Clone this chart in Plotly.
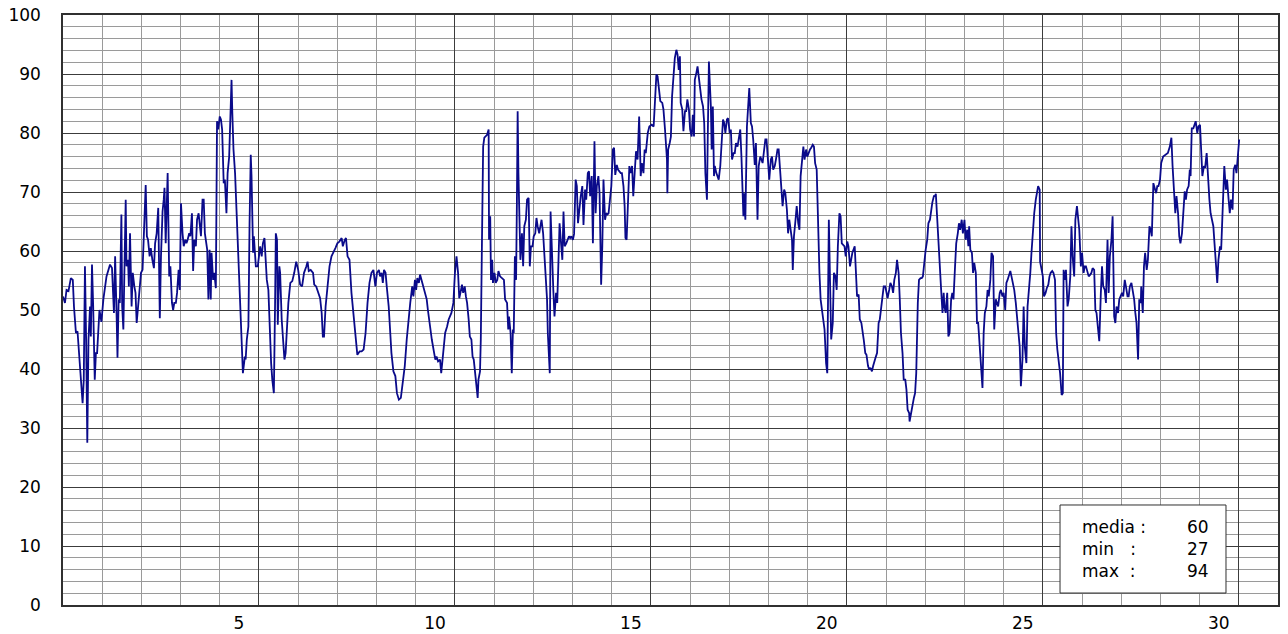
import plotly.graph_objects as go

# ── Data: time in days from start of month ───────────────────────────────────
t_d00 = [0.00, 0.05, 0.09, 0.14, 0.20, 0.25, 0.28, 0.33, 0.37, 0.40, 0.45, 0.50, 0.53, 0.56, 0.59,
         0.62, 0.65, 0.69, 0.71, 0.74, 0.77, 0.81, 0.84, 0.87, 0.93, 0.98, 1.03, 1.11, 1.20, 1.25,
         1.30, 1.33, 1.37, 1.39, 1.42, 1.45, 1.49, 1.51, 1.54, 1.56, 1.60, 1.62, 1.66, 1.68, 1.71,
         1.75, 1.78, 1.82, 1.85, 1.88, 1.92, 1.95, 1.99, 2.03, 2.07, 2.11, 2.14, 2.17, 2.21, 2.24,
         2.28, 2.32, 2.35, 2.39, 2.43, 2.45, 2.47, 2.50, 2.54, 2.57, 2.59, 2.62, 2.64, 2.67, 2.71,
         2.74, 2.78, 2.81, 2.84, 2.88, 2.91, 2.95, 2.98, 3.01, 3.05, 3.08, 3.12, 3.15, 3.18, 3.22,
         3.25, 3.29, 3.32, 3.35, 3.39, 3.42, 3.46, 3.49, 3.52, 3.56, 3.59, 3.62, 3.68, 3.71, 3.74,
         3.77, 3.79, 3.83, 3.86, 3.90, 3.93, 3.96, 4.00, 4.03, 4.06, 4.10, 4.13, 4.17, 4.20, 4.24,
         4.27, 4.30, 4.32, 4.35, 4.39, 4.42, 4.46, 4.51, 4.55, 4.59, 4.64, 4.66, 4.69, 4.73, 4.76,
         4.79, 4.81, 4.85, 4.87, 4.92, 4.97, 5.00]
v_d00 = [52.3, 51.2, 53.4, 53.2, 55.4, 55.1, 50.6, 46.1, 46.4, 43.8, 38.2, 34.2, 38.2, 57.4, 45.0,
         27.5, 45.0, 50.6, 45.5, 57.7, 50.6, 38.2, 42.7, 42.7, 50.0, 48.0, 51.8, 55.7, 57.7, 57.1,
         49.5, 59.1, 48.4, 41.9, 51.8, 51.2, 66.2, 50.6, 46.7, 56.3, 68.7, 57.4, 58.5, 54.0, 63.0,
         50.6, 56.3, 54.0, 52.9, 47.8, 50.6, 54.0, 56.3, 56.8, 64.2, 71.2, 62.5, 61.9, 59.1, 60.5,
         58.5, 57.1, 61.3, 63.0, 67.3, 56.3, 48.6, 59.1, 66.7, 68.7, 70.7, 61.3, 68.7, 73.2, 55.7,
         57.4, 51.2, 50.0, 51.2, 51.2, 52.9, 56.8, 53.4, 68.1, 63.0, 60.8, 61.9, 61.3, 61.9, 63.0,
         62.5, 66.4, 56.6, 61.9, 60.8, 65.3, 66.4, 64.2, 62.5, 68.7, 68.7, 63.0, 60.2, 51.8, 60.2,
         51.8, 59.7, 55.1, 56.3, 53.7, 82.0, 80.6, 82.8, 82.3, 80.6, 71.5, 72.1, 66.4, 73.2, 76.0,
         85.1, 89.0, 83.4, 77.2, 73.2, 67.6, 60.8, 51.2, 45.0, 39.3, 42.1, 41.6, 45.0, 47.2, 64.7,
         76.3, 72.7, 59.7, 62.5, 57.4, 57.4, 59.7]

t_d05 = [5.03, 5.07, 5.10, 5.14, 5.17, 5.20, 5.24, 5.27, 5.31, 5.34, 5.38, 5.41, 5.43, 5.46, 5.48,
         5.52, 5.54, 5.58, 5.61, 5.65, 5.68, 5.71, 5.75, 5.80, 5.85, 5.90, 5.95, 6.00, 6.05, 6.10,
         6.15, 6.21, 6.24, 6.27, 6.32, 6.38, 6.41, 6.46, 6.51, 6.56, 6.60, 6.63, 6.66, 6.70, 6.75,
         6.80, 6.85, 6.90, 6.95, 7.00, 7.05, 7.11, 7.14, 7.19, 7.22, 7.26, 7.31, 7.36, 7.41, 7.46,
         7.51, 7.57, 7.62, 7.67, 7.72, 7.77, 7.82, 7.87, 7.92, 7.97, 8.01, 8.06, 8.09, 8.13, 8.16,
         8.19, 8.23, 8.26, 8.31, 8.35, 8.38, 8.43, 8.48, 8.52, 8.57, 8.62, 8.67, 8.72, 8.77, 8.81,
         8.86, 8.91, 8.94, 8.98, 9.01, 9.04, 9.08, 9.11, 9.15, 9.20, 9.25, 9.28, 9.31, 9.36, 9.41,
         9.47, 9.50, 9.53, 9.57, 9.62, 9.65, 9.70, 9.75, 9.80, 9.84, 9.91]
v_d05 = [60.8, 59.1, 61.3, 62.2, 59.1, 55.1, 53.4, 46.7, 41.0, 38.2, 35.9, 50.6, 63.0, 61.9, 47.5,
         57.4, 56.3, 48.4, 45.0, 41.6, 42.7, 46.1, 51.2, 54.6, 54.9, 56.3, 58.2, 56.8, 54.3, 54.0,
         56.3, 57.4, 58.2, 56.6, 56.8, 56.3, 54.3, 54.0, 52.9, 52.0, 49.5, 45.5, 45.5, 50.6, 54.0,
         57.4, 59.1, 59.7, 60.5, 61.3, 61.6, 62.2, 60.8, 61.9, 62.2, 59.1, 58.5, 52.9, 48.9, 45.0,
         42.4, 43.0, 43.0, 43.3, 46.1, 51.2, 54.6, 56.3, 56.8, 54.0, 56.3, 56.8, 55.7, 56.3, 54.6,
         56.8, 56.3, 54.0, 50.6, 46.1, 42.7, 39.6, 38.8, 35.9, 34.8, 35.1, 38.2, 40.5, 45.0, 48.4,
         51.2, 54.0, 52.3, 55.1, 53.4, 55.4, 54.6, 56.0, 55.1, 54.0, 52.9, 51.8, 50.0, 47.2, 45.0,
         42.7, 41.6, 42.1, 41.3, 41.6, 39.3, 42.7, 46.1, 47.2, 48.4, 49.5]

t_d10 = [9.96, 10.00, 10.04, 10.08, 10.11, 10.14, 10.18, 10.21, 10.25, 10.28, 10.31, 10.35, 10.38,
         10.42, 10.45, 10.48, 10.52, 10.55, 10.58, 10.60, 10.64, 10.66, 10.69, 10.70, 10.72, 10.75,
         10.79, 10.82, 10.86, 10.87, 10.90, 10.92, 10.95, 10.97, 11.01, 11.04, 11.08, 11.11, 11.15,
         11.20, 11.25, 11.28, 11.33, 11.36, 11.38, 11.42, 11.45, 11.48, 11.50, 11.53, 11.56, 11.58,
         11.60, 11.62, 11.65, 11.67, 11.71, 11.74, 11.77, 11.81, 11.84, 11.88, 11.91, 11.94, 11.98,
         12.01, 12.05, 12.08, 12.11, 12.15, 12.18, 12.21, 12.25, 12.28, 12.31, 12.35, 12.37, 12.42,
         12.44, 12.47, 12.51, 12.54, 12.58, 12.61, 12.64, 12.67, 12.70, 12.74, 12.77, 12.80, 12.84,
         12.87, 12.91, 12.94, 12.97, 13.01, 13.04, 13.08, 13.11, 13.14, 13.18, 13.21, 13.25, 13.28,
         13.32, 13.35, 13.39, 13.42, 13.45, 13.49, 13.52, 13.56, 13.59, 13.62, 13.66, 13.69, 13.73,
         13.76, 13.79, 13.83, 13.86, 13.89, 13.92, 13.96, 13.99, 14.03, 14.06, 14.09, 14.13, 14.16,
         14.19, 14.23, 14.26, 14.30, 14.33, 14.35, 14.38, 14.42, 14.45, 14.48, 14.52, 14.55, 14.58,
         14.62, 14.66, 14.70, 14.74, 14.77, 14.81, 14.84, 14.87, 14.92, 14.96]
v_d10 = [51.2, 56.3, 59.1, 56.3, 52.0, 52.9, 54.3, 52.9, 54.0, 52.3, 51.2, 48.4, 45.5,
         45.0, 42.1, 41.6, 38.2, 37.1, 35.1, 38.2, 39.6, 45.0, 61.9, 74.6, 77.7, 79.2,
         79.4, 79.7, 80.6, 61.9, 65.9, 55.1, 58.5, 54.6, 56.3, 54.6, 55.1, 56.6, 55.7,
         55.4, 55.1, 51.8, 51.2, 46.7, 48.9, 46.1, 39.3, 46.7, 46.1, 59.1, 55.1, 67.6,
         83.7, 73.2, 66.4, 58.5, 63.0, 57.4, 64.2, 65.3, 68.7, 69.0, 57.4, 60.8, 60.8,
         62.5, 63.0, 65.6, 64.2, 63.0, 64.2, 65.3, 63.0, 59.7, 56.3, 51.8, 46.1, 39.3,
         66.7, 59.1, 53.4, 48.9, 52.9, 51.2, 58.5, 64.7, 61.9, 58.5, 66.7, 60.8, 61.3,
         61.9, 62.5, 62.2, 62.5, 61.9, 62.9, 72.1, 71.0, 64.7, 67.6, 69.3, 71.0, 64.4,
         70.4, 68.7, 73.2, 73.5, 69.3, 72.7, 61.3, 78.6, 66.4, 71.0, 72.7, 69.8, 54.3,
         60.8, 72.1, 65.3, 66.4, 66.2, 66.4, 68.7, 71.0, 77.2, 77.5, 72.9, 74.6, 73.8,
         73.5, 73.2, 73.2, 71.0, 67.6, 62.2, 61.9, 71.0, 74.4, 73.2, 74.4, 69.3, 73.2,
         76.9, 75.5, 82.8, 72.7, 74.9, 73.2, 77.2, 76.6, 80.0, 81.1]

t_d15 = [15.02, 15.07, 15.10, 15.14, 15.17, 15.20, 15.24, 15.29, 15.32, 15.36, 15.39, 15.41, 15.42,
         15.44, 15.48, 15.51, 15.54, 15.58, 15.61, 15.65, 15.68, 15.71, 15.74, 15.76, 15.80, 15.83,
         15.87, 15.90, 15.93, 15.97, 16.00, 16.04, 16.07, 16.10, 16.12, 16.16, 16.19, 16.22, 16.26,
         16.29, 16.33, 16.36, 16.39, 16.43, 16.45, 16.48, 16.50, 16.53, 16.55, 16.58, 16.61, 16.63,
         16.67, 16.70, 16.73, 16.77, 16.80, 16.84, 16.87, 16.90, 16.94, 16.97, 17.01, 17.04, 17.07,
         17.11, 17.14, 17.17, 17.21, 17.24, 17.28, 17.31, 17.34, 17.36, 17.38, 17.41, 17.45, 17.48,
         17.51, 17.55, 17.58, 17.61, 17.65, 17.68, 17.72, 17.75, 17.79, 17.82, 17.85, 17.89, 17.92,
         17.95, 17.99, 18.02, 18.06, 18.09, 18.12, 18.16, 18.19, 18.23, 18.26, 18.30, 18.33, 18.36,
         18.40, 18.43, 18.47, 18.50, 18.53, 18.57, 18.60, 18.62, 18.65, 18.69, 18.72, 18.76, 18.79,
         18.82, 18.86, 18.89, 18.92, 18.96, 18.99, 19.02, 19.06, 19.09, 19.13, 19.16, 19.19, 19.23,
         19.26, 19.30, 19.33, 19.37, 19.40, 19.43, 19.47, 19.50, 19.54, 19.57, 19.60, 19.64, 19.67,
         19.71, 19.74, 19.77, 19.81, 19.84, 19.87]
v_d15 = [81.4, 81.1, 85.7, 89.9, 89.6, 87.5, 85.4, 85.1, 84.0, 80.6, 77.2, 75.5, 69.8,
         77.2, 78.3, 79.4, 86.2, 91.3, 92.7, 94.1, 93.3, 90.7, 93.0, 85.1, 84.0, 80.3,
         83.7, 83.7, 85.7, 84.0, 80.6, 79.4, 83.1, 79.4, 89.0, 90.2, 91.3, 89.6, 87.3,
         85.7, 84.5, 81.7, 73.2, 68.7, 78.9, 92.1, 89.0, 84.5, 77.2, 84.5, 72.7, 74.4,
         73.2, 72.7, 72.1, 74.4, 78.9, 82.3, 81.7, 80.0, 82.3, 82.5, 80.0, 80.6, 75.5,
         76.6, 76.6, 78.3, 77.7, 78.9, 80.6, 76.0, 70.4, 65.9, 69.8, 65.3, 81.1, 85.7,
         87.6, 81.7, 81.1, 78.9, 74.6, 78.3, 65.3, 74.4, 76.0, 75.5, 74.9, 77.2, 78.9,
         78.9, 75.5, 72.1, 75.5, 76.0, 73.8, 74.4, 75.5, 77.2, 77.2, 73.8, 71.0, 67.6,
         70.4, 69.8, 67.0, 63.0, 65.3, 63.6, 61.9, 56.8, 62.5, 65.3, 67.6, 64.7, 63.6,
         72.7, 76.0, 77.7, 75.5, 77.2, 76.0, 76.6, 77.2, 77.5, 78.0, 77.7, 74.9, 73.8,
         64.7, 56.3, 51.8, 50.0, 47.8, 46.7, 41.0, 39.3, 65.3, 54.0, 45.0, 47.8, 56.3,
         55.7, 53.4, 60.8, 66.4, 65.9, 61.3]

t_d20 = [19.94, 19.97, 20.01, 20.04, 20.08, 20.11, 20.14, 20.20, 20.23, 20.26, 20.30, 20.33, 20.37,
         20.40, 20.43, 20.47, 20.50, 20.54, 20.57, 20.60, 20.64, 20.67, 20.71, 20.74, 20.77, 20.81,
         20.84, 20.88, 20.91, 20.94, 20.98, 21.01, 21.04, 21.08, 21.11, 21.15, 21.18, 21.21, 21.25,
         21.28, 21.32, 21.35, 21.38, 21.42, 21.45, 21.49, 21.52, 21.55, 21.59, 21.60, 21.64, 21.67,
         21.71, 21.74, 21.77, 21.81, 21.84, 21.88, 21.91, 21.94, 21.98, 22.01, 22.05, 22.08, 22.12,
         22.15, 22.18, 22.22, 22.25, 22.27, 22.30, 22.33, 22.37, 22.40, 22.44, 22.47, 22.49, 22.52,
         22.56, 22.59, 22.62, 22.66, 22.69, 22.72, 22.76, 22.79, 22.83, 22.86, 22.89, 22.93, 22.96,
         23.00, 23.03, 23.07, 23.10, 23.12, 23.15, 23.19, 23.22, 23.25, 23.29, 23.32, 23.35, 23.39,
         23.42, 23.46, 23.49, 23.52, 23.56, 23.59, 23.62, 23.66, 23.69, 23.73, 23.76, 23.80, 23.83,
         23.86, 23.90, 23.93, 23.97, 24.00, 24.04, 24.07, 24.10, 24.14, 24.17, 24.20, 24.24, 24.27,
         24.31, 24.34, 24.37, 24.41, 24.44, 24.48, 24.51, 24.54, 24.58, 24.61, 24.65, 24.68, 24.71,
         24.75, 24.78, 24.82, 24.85, 24.88]
v_d20 = [60.8, 59.1, 61.6, 60.8, 57.4, 58.5, 59.7, 60.8, 56.3, 52.3, 52.6, 48.4, 47.8,
         46.7, 45.0, 42.7, 42.4, 40.5, 39.9, 40.2, 39.6, 40.5, 41.6, 42.1, 42.7, 47.8,
         48.4, 50.6, 53.2, 54.0, 54.0, 52.9, 52.0, 53.4, 54.6, 54.0, 52.9, 55.1, 56.3,
         58.5, 56.3, 51.8, 46.1, 42.7, 38.2, 38.2, 36.5, 33.1, 32.5, 31.1, 32.5, 34.2,
         35.1, 35.9, 39.3, 51.2, 55.1, 55.4, 55.4, 55.7, 58.5, 60.2, 61.9, 64.7, 65.3,
         67.0, 68.2, 69.3, 69.3, 69.7, 65.9, 61.9, 55.7, 54.0, 49.5, 52.9, 50.6, 49.5,
         52.9, 45.5, 46.1, 51.8, 52.9, 51.8, 57.4, 61.3, 63.0, 64.7, 63.6, 65.3, 63.0,
         65.3, 61.9, 63.6, 60.8, 64.2, 60.2, 59.7, 56.3, 58.0, 56.3, 47.8, 47.8, 43.3,
         41.6, 36.8, 46.1, 49.5, 50.6, 53.4, 52.3, 55.1, 59.7, 59.1, 46.7, 51.8, 51.2,
         50.6, 52.9, 53.4, 52.3, 52.9, 50.0, 54.6, 55.1, 56.0, 56.6, 55.7, 54.6, 53.4,
         51.2, 48.4, 46.7, 43.8, 37.1, 41.6, 50.6, 43.8, 41.0, 50.6, 53.4, 56.3, 59.7,
         64.2, 66.4, 68.7, 69.8, 71.0]

t_d25 = [24.92, 24.93, 24.97, 25.00, 25.03, 25.07, 25.10, 25.14, 25.17, 25.20, 25.24, 25.27, 25.31,
         25.34, 25.37, 25.41, 25.44, 25.48, 25.51, 25.53, 25.56, 25.59, 25.63, 25.66, 25.70, 25.73,
         25.76, 25.80, 25.83, 25.87, 25.90, 25.93, 25.97, 26.00, 26.04, 26.07, 26.10, 26.14, 26.17,
         26.21, 26.24, 26.27, 26.31, 26.34, 26.37, 26.41, 26.44, 26.48, 26.51, 26.54, 26.58, 26.61,
         26.65, 26.68, 26.71, 26.75, 26.78, 26.82, 26.85, 26.88, 26.92, 26.95, 26.99, 27.02, 27.05,
         27.09, 27.12, 27.16, 27.19, 27.22, 27.26, 27.29, 27.33, 27.36, 27.39, 27.43, 27.46, 27.50,
         27.51, 27.55, 27.58, 27.61, 27.65, 27.68, 27.72, 27.75, 27.78, 27.82, 27.85, 27.89, 27.92,
         27.95, 27.99, 28.02, 28.07, 28.12, 28.19, 28.24, 28.28, 28.31, 28.35, 28.38, 28.41, 28.45,
         28.48, 28.51, 28.55, 28.58, 28.62, 28.65, 28.68, 28.72, 28.75, 28.77, 28.80, 28.84, 28.87,
         28.90, 28.94, 28.97, 29.01, 29.04, 29.07, 29.11, 29.14, 29.18, 29.21, 29.25, 29.28, 29.31,
         29.35, 29.38, 29.41, 29.45, 29.48, 29.52, 29.55, 29.58, 29.62, 29.63, 29.67, 29.70, 29.74,
         29.77, 29.80, 29.84, 29.87, 29.91, 29.94, 29.97, 30.01]
v_d25 = [70.4, 58.2, 56.8, 55.7, 52.3, 52.9, 53.7, 54.3, 55.7, 56.3, 56.6, 56.3, 55.1,
         46.1, 43.3, 41.0, 39.3, 35.6, 35.9, 56.8, 55.1, 56.8, 50.6, 51.8, 55.7, 64.2,
         59.1, 55.7, 65.3, 67.6, 64.7, 63.6, 57.4, 59.7, 56.3, 57.4, 57.4, 56.3, 55.7,
         56.0, 56.3, 57.1, 56.8, 50.0, 49.5, 46.7, 44.7, 52.9, 57.4, 54.0, 53.4, 51.2,
         61.9, 52.9, 59.1, 61.9, 65.9, 48.9, 47.8, 50.6, 49.5, 51.8, 52.3, 52.9, 52.3,
         55.1, 54.0, 52.3, 52.3, 54.0, 54.6, 53.4, 51.8, 49.5, 47.8, 41.6, 51.8, 51.2,
         54.0, 49.5, 57.4, 59.7, 56.8, 58.5, 64.2, 63.6, 62.5, 71.5, 70.9, 69.8, 71.0,
         71.0, 72.1, 74.9, 76.0, 76.3, 76.6, 77.7, 79.2, 74.4, 68.2, 66.4, 69.3, 66.4,
         62.5, 61.3, 63.0, 66.4, 70.1, 68.7, 70.4, 71.0, 73.8, 72.7, 80.8, 80.8, 81.4,
         82.0, 80.0, 81.1, 81.4, 77.2, 72.7, 74.4, 74.1, 76.6, 72.1, 68.7, 66.4, 65.3,
         64.2, 61.3, 58.5, 54.6, 58.5, 60.8, 60.2, 65.3, 72.1, 74.4, 70.4, 72.1, 68.7,
         66.4, 68.7, 67.0, 73.8, 74.6, 73.2, 76.0, 78.9]

x_tickvals = [5, 10, 15, 20, 25, 30]
stat_labels = ["media :", "min\u00a0\u00a0\u00a0:", "max\u00a0\u00a0:"]
stat_values = [60, 27, 94]

t_all = t_d00 + t_d05 + t_d10 + t_d15 + t_d20 + t_d25
v_all = v_d00 + v_d05 + v_d10 + v_d15 + v_d20 + v_d25

FONT = "'DejaVu Sans', Arial, sans-serif"
DARK = "#3c3c3c"
LIGHT = "#9a9a9a"

fig = go.Figure(go.Scatter(
    x=t_all, y=v_all, mode="lines",
    line=dict(color="#0a0a8a", width=1.8),
    hoverinfo="skip",
))

# page body keeps its 8px margin: figure sits at (8, 8) in the window
fig.update_layout(
    width=1272, height=626,
    margin=dict(l=55, r=2, t=7, b=29),
    paper_bgcolor="white", plot_bgcolor="white",
    showlegend=False,
    font=dict(family=FONT, size=17, color="black"),
    xaxis=dict(
        range=[0, 31], tickvals=x_tickvals, ticktext=[str(v) for v in x_tickvals],
        ticklabelshift=-20, ticklabelstandoff=2, ticks="",
        ticklabeloverflow="allow", automargin=False,
        showgrid=True, gridcolor=DARK, gridwidth=1,
        minor=dict(dtick=1, tick0=0, showgrid=True, gridcolor=LIGHT, gridwidth=1),
        showline=True, linecolor="#303030", linewidth=1.5, mirror=True,
        zeroline=False, fixedrange=True,
    ),
    yaxis=dict(
        range=[0, 100], dtick=10, tick0=0, ticks="", ticklabelstandoff=17,
        ticklabeloverflow="allow", automargin=False,
        showgrid=True, gridcolor=DARK, gridwidth=1,
        minor=dict(dtick=2, tick0=0, showgrid=True, gridcolor=LIGHT, gridwidth=1),
        showline=True, linecolor="#303030", linewidth=1.5, mirror=True,
        zeroline=False, fixedrange=True,
    ),
)

# stats box (bottom right)
fig.add_shape(type="rect", xref="paper", yref="paper",
              x0=0.8206, x1=0.9572, y0=0.0203, y1=0.1695,
              line=dict(color="#303030", width=1), fillcolor="white", layer="above")
fig.add_annotation(xref="paper", yref="paper", x=0.837, y=0.095,
                   text="<br>".join(stat_labels), showarrow=False,
                   xanchor="left", yanchor="middle", align="left",
                   font=dict(family=FONT, size=17, color="black"))
fig.add_annotation(xref="paper", yref="paper", x=0.945, y=0.095,
                   text="<br>".join(str(v) for v in stat_values), showarrow=False,
                   xanchor="right", yanchor="middle", align="right",
                   font=dict(family=FONT, size=17, color="black"))

fig.write_html("out.html")
